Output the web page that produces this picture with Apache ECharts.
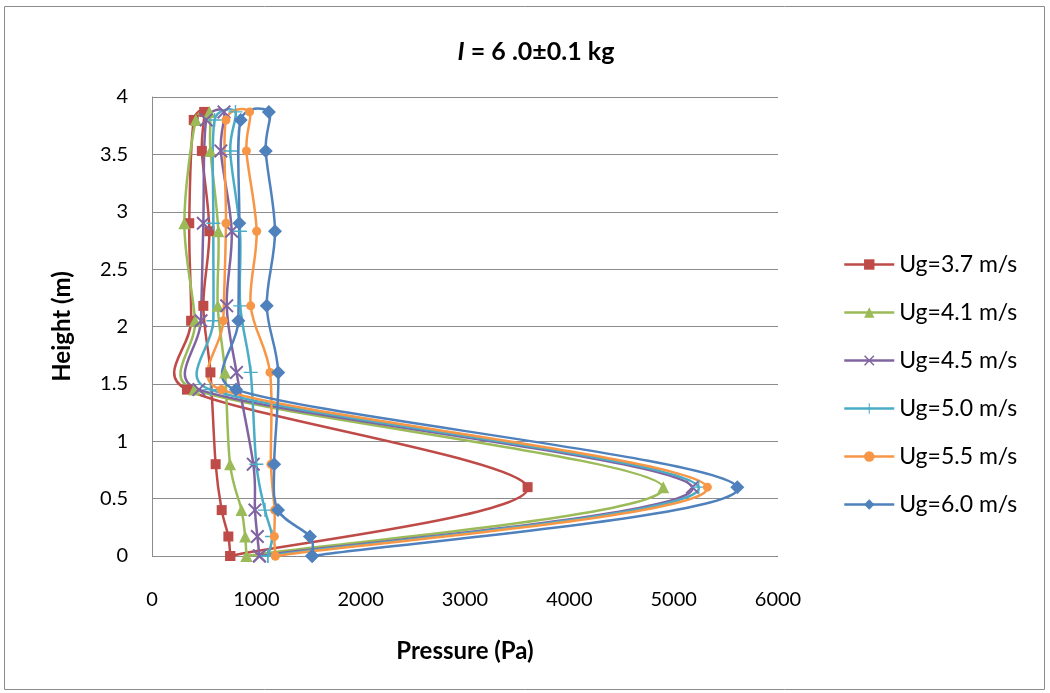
<!DOCTYPE html>
<html>
<head>
<meta charset="utf-8">
<script src="https://cdn.jsdelivr.net/npm/echarts@6/dist/echarts.min.js"></script>
<style>
html,body{margin:0;padding:0;background:#fff;}
#chart{width:1050px;height:693px;}
</style>
</head>
<body>
<div id="chart"></div>
<script>
// Heights (m), in the order the points are connected (closed loop)
const heights = [0, 0.17, 0.4, 0.8, 1.6, 2.18, 2.83, 3.53, 3.87, 3.8, 2.9, 2.05, 1.45, 0.6, 0];

const seriesNames = ['Ug=3.7 m/s', 'Ug=4.1 m/s', 'Ug=4.5 m/s', 'Ug=5.0 m/s', 'Ug=5.5 m/s', 'Ug=6.0 m/s'];

// Pressure (Pa) for each height above
const p37 = [750, 732, 668, 610, 560, 492, 550, 478, 500, 400, 357, 375, 335, 3600, 750];
const p41 = [905, 893, 858, 748, 700, 630, 636, 560, 550, 420, 310, 412, 405, 4900, 905];
const p45 = [1030, 1010, 987, 971, 810, 716, 764, 660, 690, 520, 492, 470, 450, 5180, 1030];
const p50 = [1110, 1150, 1083, 1000, 946, 846, 843, 750, 800, 600, 588, 588, 560, 5240, 1110];
const p55 = [1182, 1172, 1175, 1140, 1131, 946, 1003, 905, 935, 709, 709, 684, 665, 5323, 1182];
const p60 = [1535, 1514, 1208, 1171, 1210, 1100, 1179, 1090, 1120, 850, 837, 828, 805, 5610, 1535];

const pressures = [p37, p41, p45, p50, p55, p60];
const colors = ['#BE4B48', '#9BBB59', '#8064A2', '#4BACC6', '#F79646', '#4F81BD'];
const xPath = 'path://M0,1 L1,0 L5,4 L9,0 L10,1 L6,5 L10,9 L9,10 L5,6 L1,10 L0,9 L4,5 Z';
const plusPath = 'path://M4.5,0 H5.5 V4.5 H10 V5.5 H5.5 V10 H4.5 V5.5 H0 V4.5 H4.5 Z';
const symbols = ['rect', 'triangle', xPath, plusPath, 'circle', 'diamond'];
const symbolSizes = [10, 12, 14, 14, 9, 14];

const xTicks = [0, 1000, 2000, 3000, 4000, 5000, 6000];

const FONT = 'Lato, "Open Sans", sans-serif';

const chart = echarts.init(document.getElementById('chart'), null, {renderer: 'canvas'});

function capVec(vx, vy, maxLen) {
  const len = Math.sqrt(vx * vx + vy * vy);
  if (len > maxLen && len > 0) {
    const s = maxLen / len;
    return [vx * s, vy * s];
  }
  return [vx, vy];
}

// Spreadsheet-style smoothed curve through the points, in pixel space
function curveItem(i) {
  return function (params, api) {
    if (params.dataIndex !== 0) return null;
    const pts = heights.map((h, k) => api.coord([pressures[i][k], h]));
    const n = pts.length;
    let d = 'M' + pts[0][0] + ' ' + pts[0][1];
    for (let k = 0; k < n - 1; k++) {
      const p0 = pts[Math.max(k - 1, 0)];
      const p1 = pts[k];
      const p2 = pts[k + 1];
      const p3 = pts[Math.min(k + 2, n - 1)];
      const seg = Math.sqrt((p2[0] - p1[0]) ** 2 + (p2[1] - p1[1]) ** 2);
      const a = capVec((p2[0] - p0[0]) / 6, (p2[1] - p0[1]) / 6, seg * 0.5);
      const b = capVec((p3[0] - p1[0]) / 6, (p3[1] - p1[1]) / 6, seg * 0.5);
      const c1 = [p1[0] + a[0], p1[1] + a[1]];
      const c2 = [p2[0] - b[0], p2[1] - b[1]];
      d += ' C' + c1[0] + ' ' + c1[1] + ' ' + c2[0] + ' ' + c2[1] + ' ' + p2[0] + ' ' + p2[1];
    }
    return {
      type: 'path',
      shape: {pathData: d},
      style: {fill: 'none', stroke: colors[i], lineWidth: 2.5, lineJoin: 'round'},
      silent: true
    };
  };
}

const series = [];
seriesNames.forEach((name, i) => {
  const pts = heights.map((h, k) => [pressures[i][k], h]);
  series.push({
    name: name + ' curve',
    type: 'custom',
    coordinateSystem: 'cartesian2d',
    renderItem: curveItem(i),
    data: pts,
    encode: {x: 0, y: 1},
    silent: true,
    animation: false
  });
  series.push({
    name: name,
    type: 'line',
    symbol: symbols[i],
    symbolSize: symbolSizes[i],
    showAllSymbol: true,
    data: pts,
    lineStyle: {color: colors[i], width: 2.5, opacity: 0},
    itemStyle: {color: colors[i]},
    emphasis: {disabled: true},
    animation: false
  });
});

chart.setOption({
  animation: false,
  textStyle: {fontFamily: FONT},
  title: {
    text: '{i|I} = 6 .0±0.1 kg',
    left: 531,
    top: 34,
    textAlign: 'center',
    textStyle: {
      fontFamily: FONT,
      fontSize: 25,
      fontWeight: 'bold',
      color: '#000',
      rich: {
        i: {fontFamily: FONT, fontSize: 25, fontWeight: 'bold', fontStyle: 'italic', color: '#000'}
      }
    }
  },
  graphic: [{
    type: 'rect',
    shape: {x: 4.5, y: 6.5, width: 1040, height: 683},
    style: {fill: 'none', stroke: '#8c8c8c', lineWidth: 1},
    silent: true,
    z: -1
  }],
  legend: {
    orient: 'vertical',
    left: 838,
    top: 248,
    itemWidth: 50,
    itemHeight: 13,
    itemGap: 25,
    data: seriesNames,
    lineStyle: {opacity: 1, width: 2.5},
    textStyle: {fontFamily: FONT, fontSize: 23, color: '#000'}
  },
  grid: {left: 152, top: 97, width: 626, height: 459, containLabel: false},
  xAxis: {
    type: 'value',
    min: 0,
    max: 6000,
    interval: 1000,
    name: 'Pressure (Pa)',
    nameLocation: 'middle',
    nameGap: 83,
    nameTextStyle: {fontFamily: FONT, fontSize: 24, fontWeight: 'bold', color: '#000'},
    axisLine: {show: false},
    axisTick: {show: false},
    splitLine: {show: false},
    axisLabel: {
      fontFamily: FONT, fontSize: 20, color: '#000', margin: 34,
      formatter: v => (xTicks.indexOf(v) >= 0 ? String(v) : '')
    }
  },
  yAxis: {
    type: 'value',
    min: 0,
    max: 4,
    interval: 0.5,
    name: 'Height (m)',
    nameLocation: 'middle',
    nameGap: 78,
    nameRotate: 90,
    nameTextStyle: {fontFamily: FONT, fontSize: 24, fontWeight: 'bold', color: '#000'},
    axisLine: {show: true, lineStyle: {color: '#8c8c8c', width: 1}},
    axisTick: {show: false},
    splitLine: {show: true, lineStyle: {color: '#8c8c8c', width: 1}},
    axisLabel: {fontFamily: FONT, fontSize: 20, color: '#000', margin: 24}
  },
  series: series
});
</script>
</body>
</html>
